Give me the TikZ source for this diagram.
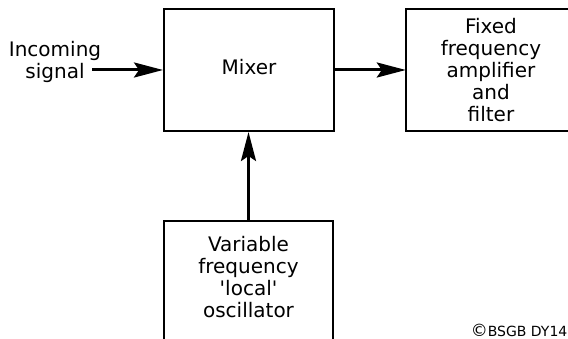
\documentclass[tikz,border=0pt]{standalone}
\usepackage{fontspec}
\setmainfont{DejaVu Sans}
\usetikzlibrary{arrows.meta}
\begin{document}
\begin{tikzpicture}[x=1pt,y=-1pt,
  box/.style={draw=black, line width=2pt, fill=white, inner sep=0pt},
  openbox/.style={inner sep=0pt},
  edge/.style={draw=black, line width=2pt},
  txt/.style={align=center, inner sep=0pt, font=\fontsize{20}{22}\selectfont},
  conn/.style={line width=3pt, -{Stealth[length=29pt,width=15pt,inset=5pt]}}]
\useasboundingbox (0,0) rectangle (568,339);
\clip (0,0) rectangle (568,339);
\fill[white] (0,0) rectangle (568,339);
\node[box, minimum width=170pt, minimum height=122pt] (mix) at (249,70) {};
\node[txt, yshift=3pt] (mixtext) at (mix.center) {Mixer};
\node[openbox, minimum width=200pt, minimum height=122pt] (fix) at (506,70) {};
\path[edge] (fix.north east) -- (fix.north west) -- (fix.south west) -- (fix.south east);
\node[txt] (fixtext) at (491,70) {Fixed\\frequency\\amplifier\\and\\filter};
\node[openbox, minimum width=169pt, minimum height=150pt, anchor=north] (osc) at (248.5,220.7) {};
\path[edge] (osc.south west) -- (osc.north west) -- (osc.north east) -- (osc.south east);
\node[txt, anchor=north] (osctext) at (248.5,236.5) {Variable\\frequency\\\textquotesingle local\textquotesingle\\oscillator};
\node[txt, anchor=north] (intext) at (55,41.5) {Incoming\\signal};
\coordinate (inStart) at (92,70);
\draw[conn] (inStart) -- (mix.west);
\draw[conn] (mix.east) -- (fix.west);
\draw[conn] (osc.north) -- (osc.north |- mix.south);
\node[anchor=base east, inner sep=0pt] (copy) at (567.5,336.5) {{\fontsize{17}{17}\selectfont ©}{\fontsize{14}{14}\selectfont BSGB DY14}};
\end{tikzpicture}
\end{document}
